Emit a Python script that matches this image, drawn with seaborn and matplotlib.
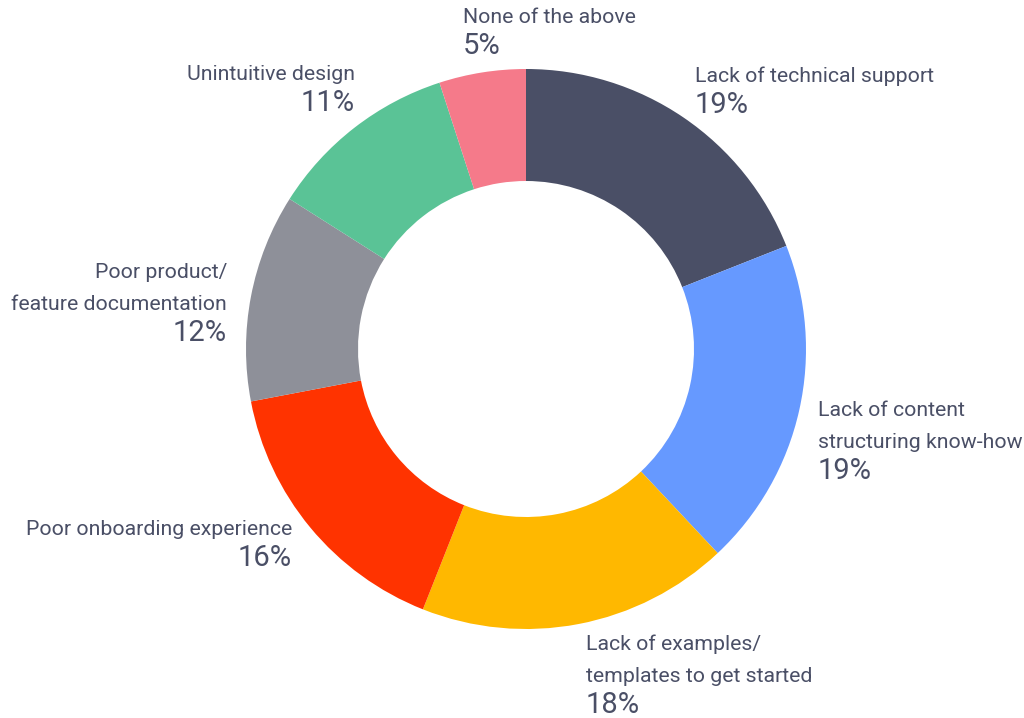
import matplotlib
matplotlib.use("Agg")
import matplotlib.pyplot as plt
import seaborn as sns

# Survey answers: biggest obstacles, clockwise from 12 o'clock
categories = [
    "Lack of technical support",
    "Lack of content\nstructuring know-how",
    "Lack of examples/\ntemplates to get started",
    "Poor onboarding experience",
    "Poor product/\nfeature documentation",
    "Unintuitive design",
    "None of the above",
]
shares = [19, 19, 18, 16, 12, 11, 5]
colors = ["#4a4f66", "#6699ff", "#ffb800", "#ff3300", "#8e9099", "#5ac396", "#f57a8a"]

# label anchor (x, baseline of first line in px from top) and alignment
label_pos = [
    (695, 82, "left"),
    (818, 416, "left"),
    (586, 650, "left"),
    (292, 535, "right"),
    (227, 278, "right"),
    (355, 80, "right"),
    (463, 23, "left"),
]

sns.set_theme(style="white")
plt.rcParams["font.family"] = ["Roboto", "DejaVu Sans"]
text_color = "#4a4f66"

W, H = 1024, 718
fig = plt.figure(figsize=(W / 100, H / 100), dpi=100)
fig.patch.set_facecolor("white")
ax = fig.add_axes([0, 0, 1, 1])

cx, cy, r = 526, H - 349, 280
ax.pie(
    shares,
    colors=colors,
    startangle=90,
    counterclock=False,
    radius=r,
    center=(cx, cy),
    wedgeprops=dict(width=112, edgecolor="none", linewidth=0),
    frame=True,
)
ax.set_xlim(0, W)
ax.set_ylim(0, H)
ax.set_aspect("equal")
ax.axis("off")

line_gap = 32
pct_gap = 31
for name, val, (x, y0, ha) in zip(categories, shares, label_pos):
    lines = name.split("\n")
    for i, line in enumerate(lines):
        ax.text(x, H - (y0 + i * line_gap), line, ha=ha, va="baseline",
                fontsize=15.3, color=text_color)
    yp = y0 + (len(lines) - 1) * line_gap + pct_gap
    ax.text(x, H - yp, f"{val}%", ha=ha, va="baseline",
            fontsize=21, color=text_color)

fig.savefig("out.png", dpi=100, facecolor="white")
